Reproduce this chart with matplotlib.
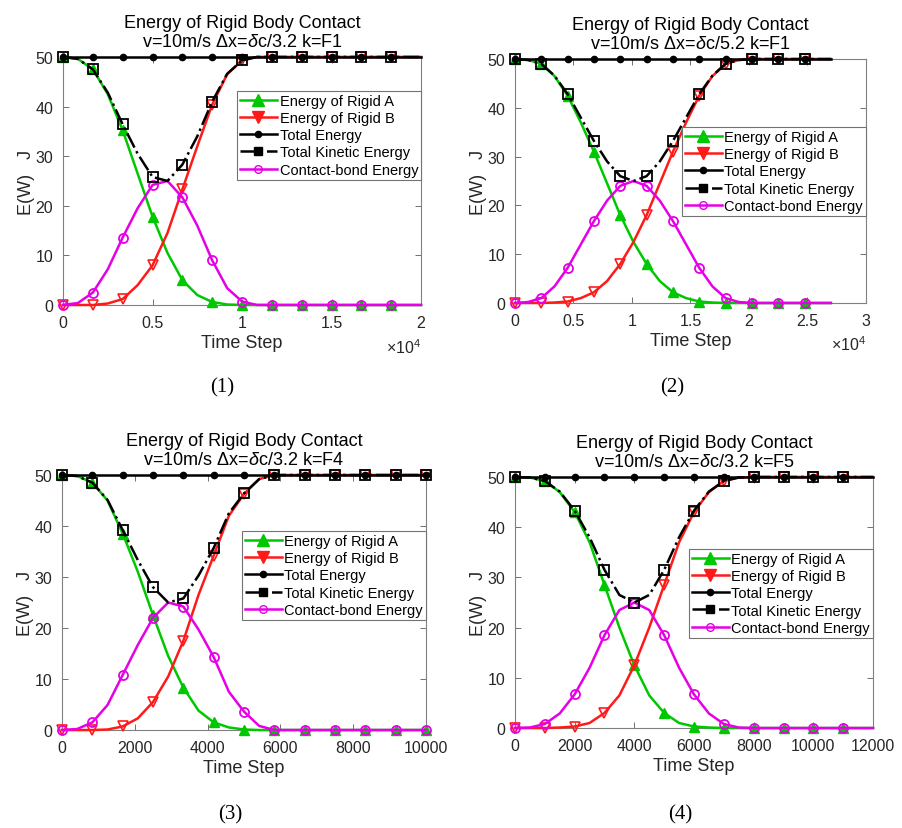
import numpy as np
import matplotlib
matplotlib.use('Agg')
import matplotlib.pyplot as plt
from matplotlib.lines import Line2D

plt.rcParams['font.family'] = ['Liberation Sans', 'DejaVu Sans']
plt.rcParams['mathtext.fontset'] = 'custom'
plt.rcParams['mathtext.rm'] = 'Liberation Sans'
plt.rcParams['mathtext.it'] = 'Liberation Sans:italic'

# ---- data (energy in J vs time step) ----
# panel 1: k=F1, dx=dc/3.2
steps1 = np.linspace(0, 20000, 25)
rigidA1 = [50, 49.6, 47.5, 42.5, 35.2, 26.5, 17.8, 10.5, 5.0, 2.0, 0.6, 0.1, 0,
           0, 0, 0, 0, 0, 0, 0, 0, 0, 0, 0, 0]
rigidB1 = [0, 0, 0, 0.3, 1.2, 4.0, 8.0, 14.5, 23.3, 32.0, 40.4, 46.5, 49.3,
           50, 50, 50, 50, 50, 50, 50, 50, 50, 50, 50, 50]
kinetic1 = [50, 49.6, 47.5, 42.8, 36.4, 30.5, 25.8, 25.0, 28.3, 34.0, 41.0, 46.6, 49.3,
            50, 50, 50, 50, 50, 50, 50, 50, 50, 50, 50, 50]
bond1 = [0, 0.4, 2.5, 7.2, 13.6, 19.5, 24.2, 25.0, 21.7, 16.0, 9.0, 3.4, 0.7,
         0, 0, 0, 0, 0, 0, 0, 0, 0, 0, 0, 0]
total1 = [50] * 25

# panel 2: k=F1, dx=dc/5.2
steps2 = np.linspace(0, 27000, 25)
rigidA2 = [50, 49.8, 49.0, 46.5, 42.5, 37.0, 31.0, 24.5, 18.0, 12.5, 8.0, 4.5, 2.2,
           1.0, 0.3, 0.1, 0, 0, 0, 0, 0, 0, 0, 0, 0]
rigidB2 = [0, 0, 0, 0.1, 0.3, 1.0, 2.2, 4.5, 8.0, 12.5, 18.0, 24.5, 31.0,
           37.0, 42.5, 46.5, 49.0, 49.8, 50, 50, 50, 50, 50, 50, 50]
kinetic2 = [50, 49.8, 49.0, 46.6, 42.8, 38.0, 33.2, 29.0, 26.0, 25.0, 26.0, 29.0, 33.2,
            38.0, 42.8, 46.6, 49.0, 49.8, 50, 50, 50, 50, 50, 50, 50]
bond2 = [0, 0.2, 1.0, 3.4, 7.2, 12.0, 16.8, 21.0, 24.0, 25.0, 24.0, 21.0, 16.8,
         12.0, 7.2, 3.4, 1.0, 0.2, 0, 0, 0, 0, 0, 0, 0]
total2 = [50] * 25

# panel 3: k=F4, dx=dc/3.2
steps3 = np.linspace(0, 10000, 25)
rigidA3 = [50, 49.8, 48.5, 45.0, 38.5, 31.0, 22.5, 14.5, 8.3, 3.8, 1.5, 0.5, 0.1,
           0, 0, 0, 0, 0, 0, 0, 0, 0, 0, 0, 0]
rigidB3 = [0, 0, 0, 0.1, 0.7, 2.3, 5.5, 10.5, 17.5, 26.5, 34.2, 42.0, 46.3,
           49.2, 50, 50, 50, 50, 50, 50, 50, 50, 50, 50, 50]
kinetic3 = [50, 49.8, 48.5, 45.1, 39.2, 33.3, 28.0, 25.0, 25.8, 30.3, 35.7, 42.5, 46.4,
            49.2, 50, 50, 50, 50, 50, 50, 50, 50, 50, 50, 50]
bond3 = [0, 0.2, 1.5, 4.9, 10.8, 16.7, 22.0, 25.0, 24.2, 19.7, 14.3, 7.5, 3.6,
         0.8, 0, 0, 0, 0, 0, 0, 0, 0, 0, 0, 0]
total3 = [50] * 25

# panel 4: k=F5, dx=dc/3.2
steps4 = np.linspace(0, 12000, 25)
rigidA4 = [50, 49.9, 49.2, 47.0, 43.0, 37.0, 28.5, 20.0, 12.5, 6.5, 3.0, 1.0, 0.3,
           0.1, 0, 0, 0, 0, 0, 0, 0, 0, 0, 0, 0]
rigidB4 = [0, 0, 0, 0.1, 0.3, 1.0, 3.0, 6.5, 12.5, 20.0, 28.5, 37.0, 43.0,
           47.0, 49.2, 49.9, 50, 50, 50, 50, 50, 50, 50, 50, 50]
kinetic4 = [50, 49.9, 49.2, 47.1, 43.3, 38.0, 31.5, 26.5, 25.0, 26.5, 31.5, 38.0, 43.3,
            47.1, 49.2, 49.9, 50, 50, 50, 50, 50, 50, 50, 50, 50]
bond4 = [0, 0.1, 0.8, 2.9, 6.7, 12.0, 18.5, 23.5, 25.0, 23.5, 18.5, 12.0, 6.7,
         2.9, 0.8, 0.1, 0, 0, 0, 0, 0, 0, 0, 0, 0]
total4 = [50] * 25

subtitles = [r'v=10m/s $\Delta$x=$\delta$c/3.2 k=F1',
             r'v=10m/s $\Delta$x=$\delta$c/5.2 k=F1',
             r'v=10m/s $\Delta$x=$\delta$c/3.2 k=F4',
             r'v=10m/s $\Delta$x=$\delta$c/3.2 k=F5']
captions = ['(1)', '(2)', '(3)', '(4)']
series_names = ['Energy of Rigid A', 'Energy of Rigid B', 'Total Energy',
                'Total Kinetic Energy', 'Contact-bond Energy']

GREEN = '#00c800'
RED = '#ff1a1a'
MAGENTA = '#e600e6'

panels = [
    dict(x=steps1, a=rigidA1, b=rigidB1, tot=total1, kin=kinetic1, bond=bond1,
         pos=[0.0698, 0.6309, 0.3965, 0.2992], xlim=20000,
         xticks=[0, 5000, 10000, 15000, 20000], xlabels=['0', '0.5', '1', '1.5', '2'],
         sci=True, mark=slice(0, 24, 2), leg_top=0.863, cap=(0.246, 0.532)),
    dict(x=steps2, a=rigidA2, b=rigidB2, tot=total2, kin=kinetic2, bond=bond2,
         pos=[0.5703, 0.6333, 0.3887, 0.2943], xlim=30000,
         xticks=[0, 5000, 10000, 15000, 20000, 25000, 30000],
         xlabels=['0', '0.5', '1', '1.5', '2', '2.5', '3'],
         sci=True, mark=slice(0, 24, 2), leg_top=0.721, cap=(0.744, 0.532)),
    dict(x=steps3, a=rigidA3, b=rigidB3, tot=total3, kin=kinetic3, bond=bond3,
         pos=[0.0687, 0.1182, 0.4031, 0.3076], xlim=10000,
         xticks=[0, 2000, 4000, 6000, 8000, 10000],
         xlabels=['0', '2000', '4000', '6000', '8000', '10000'],
         sci=False, mark=slice(0, 25, 2), leg_top=0.780, cap=(0.255, 0.017)),
    dict(x=steps4, a=rigidA4, b=rigidB4, tot=total4, kin=kinetic4, bond=bond4,
         pos=[0.5703, 0.1206, 0.3965, 0.3028], xlim=12000,
         xticks=[0, 2000, 4000, 6000, 8000, 10000, 12000],
         xlabels=['0', '2000', '4000', '6000', '8000', '10000', '12000'],
         sci=False, mark=slice(0, 24, 2), leg_top=0.713, cap=(0.753, 0.017)),
]

fig = plt.figure(figsize=(9.03, 8.29), dpi=100)

for i, p in enumerate(panels):
    ax = fig.add_axes(p['pos'])
    m = p['mark']
    kw = dict(lw=1.8, markevery=m, clip_on=False)
    ax.plot(p['x'], p['a'], color=GREEN, marker='^', ms=7.5, mfc=GREEN, zorder=3, **kw)
    ax.plot(p['x'], p['b'], color=RED, marker='v', ms=7.5, mfc='none', mew=1.2, zorder=4, **kw)
    ax.plot(p['x'], p['tot'], color='k', marker='o', ms=4.5, mfc='k', zorder=5, **kw)
    ax.plot(p['x'], p['kin'], color='k', ls='-.', marker='s', ms=6.5, mfc='none', mew=1.3,
            zorder=6, **kw)
    ax.plot(p['x'], p['bond'], color=MAGENTA, marker='o', ms=6.5, mfc='none', mew=1.3,
            zorder=5, **kw)

    ax.set_xlim(0, p['xlim'])
    ax.set_ylim(0, 50)
    ax.set_xticks(p['xticks'])
    ax.set_xticklabels(p['xlabels'])
    ax.set_yticks([0, 10, 20, 30, 40, 50])
    ax.tick_params(direction='in', top=True, right=True, length=4, width=0.6,
                   labelsize=11.5, colors='0.35', labelcolor='0.15', pad=7)
    for s in ax.spines.values():
        s.set_color('0.5')
        s.set_linewidth(0.8)

    ax.set_xlabel('Time Step', fontsize=13, color='0.15', labelpad=3)
    ax.set_ylabel('E(W)   J', fontsize=13, color='0.15', labelpad=0)
    ax.set_title('Energy of Rigid Body Contact\n' + subtitles[i], fontsize=13,
                 color='k', pad=8, linespacing=1.15)
    if p['sci']:
        ax.text(1.0, -0.168, r'$\times10^{4}$', transform=ax.transAxes, ha='right',
                va='center', fontsize=11.5, color='0.15')

    handles = [
        Line2D([], [], color=GREEN, marker='^', ms=8, lw=1.8),
        Line2D([], [], color=RED, marker='v', ms=8, lw=1.8),
        Line2D([], [], color='k', marker='o', ms=4.5, lw=1.8),
        Line2D([], [], color='k', ls='-.', marker='s', ms=5.5, lw=1.8),
        Line2D([], [], color=MAGENTA, marker='o', ms=5.5, mfc='none', lw=1.8),
    ]
    leg = ax.legend(handles, series_names, loc='upper right',
                    bbox_to_anchor=(1.0, p['leg_top']), borderaxespad=0,
                    fontsize=10.5, handlelength=2.5, handletextpad=0.2,
                    labelspacing=0.22, borderpad=0.2, fancybox=False,
                    framealpha=1, edgecolor='0.45')
    leg.get_frame().set_linewidth(0.8)

    fig.text(p['cap'][0], p['cap'][1], captions[i], ha='center', va='center',
             fontsize=15, family=['Liberation Serif', 'DejaVu Serif'])

fig.savefig('out.png', dpi=100)
